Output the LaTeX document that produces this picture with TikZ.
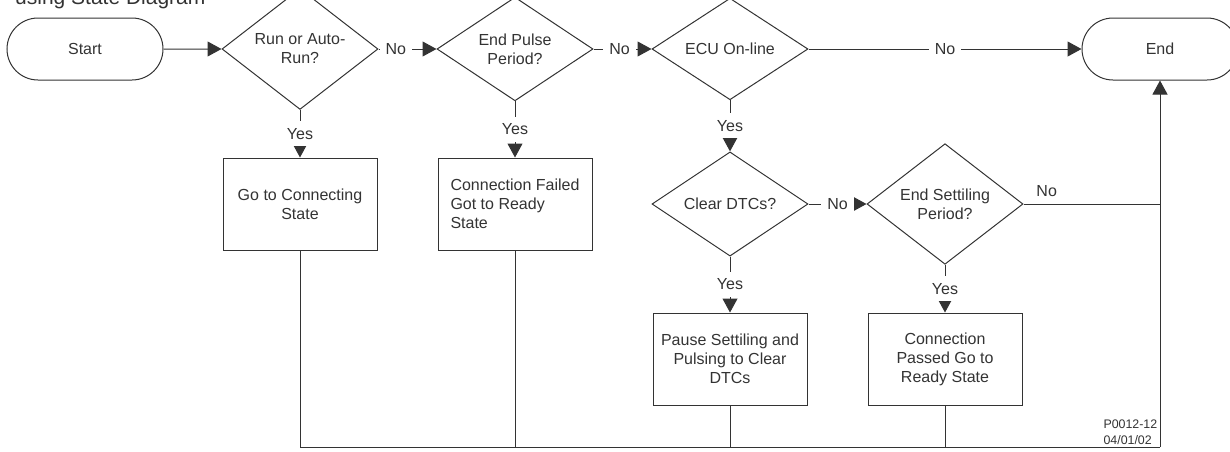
\documentclass[tikz,border=0pt]{standalone}
\usepackage{fontspec}
\setmainfont{Liberation Sans}
\usetikzlibrary{shapes.geometric,shapes.misc,arrows.meta}

\definecolor{inkgray}{HTML}{333333}

\begin{document}
\begin{tikzpicture}[-,>={Triangle[length=7pt,width=7.5pt]},node distance=107.5pt,line width=0.5pt,color=inkgray,
    font=\fontsize{8}{9.5}\selectfont,
    term node/.style={rounded rectangle,draw,minimum width=78pt,minimum height=31pt,inner sep=0pt},
    test node/.style={diamond,draw,minimum width=78pt,minimum height=45.5pt,inner sep=0pt,align=center},
    task node/.style={rectangle,draw,minimum width=77pt,minimum height=46pt,inner sep=0pt,align=center},
    answer/.style={fill=white,inner xsep=3pt,inner ysep=3.5pt}]

                \useasboundingbox (-42.5pt,24.5pt) rectangle (572.5pt,-201pt);

                \node[anchor=base west, font=\fontsize{10.5}{12}\selectfont] (title) at (-38.5pt,22.5pt) {using State Diagram};

                \node[term node]  (start) []{Start};
                \node[test node]  (run) [right of = start]{Run or Auto-\\Run?};
                \node[test node]  (pulse) [right of = run]{End Pulse\\Period?};
                \node[test node]  (online) [right of = pulse]{ECU On-line};
                \node[term node]  (end) [right of = online, xshift=107.5pt]{End};

                \node[task node]  (connect) [below of = run, yshift=30pt]{Go to Connecting\\State};
                \node[task node, align=left]  (failed) [below of = pulse, yshift=30pt]{Connection Failed\\Got to Ready\\State};
                \node[test node]  (clear) [below of = online, yshift=30pt]{Clear DTCs?};
                \node[test node]  (settle) [right of = clear]{End Settiling\\Period?};
                \node[task node]  (pause) [below of = clear, yshift=30pt]{Pause Settiling and\\Pulsing to Clear\\DTCs};
                \node[task node]  (passed) [below of = settle, yshift=30pt]{Connection\\Passed Go to\\Ready State};

                \node[anchor=north west, align=left, inner sep=0pt, font=\fontsize{6.2}{8.2}\selectfont] (stamp) at (509pt,-185pt){P0012-12\\04/01/02};

                \coordinate (corner) at ([yshift=-199pt]end.center);

                \path[->]

                (start) edge (run)
                (run) edge node[answer, pos=0.3] {No} (pulse)
                (pulse) edge node[answer, pos=0.45] {No} (online)
                (online) edge node[answer] {No} (end)
                (clear) edge node[answer, pos=0.5] {No} (settle)

                (run) edge node[answer] {Yes} (connect)
                (pulse) edge node[answer] {Yes} (failed)
                (online) edge node[answer] {Yes} (clear)
                (clear) edge node[answer] {Yes} (pause)
                (settle) edge node[answer] {Yes} (passed)
                (corner) edge (end)
            ;

                \draw (connect) |- (corner);
                \draw (failed) -- (failed |- corner);
                \draw (pause) -- (pause |- corner);
                \draw (passed) -- (passed |- corner);
                \draw (settle) -- node[above, pos=0.17] {No} (settle -| end);
            \end{tikzpicture}
\end{document}
